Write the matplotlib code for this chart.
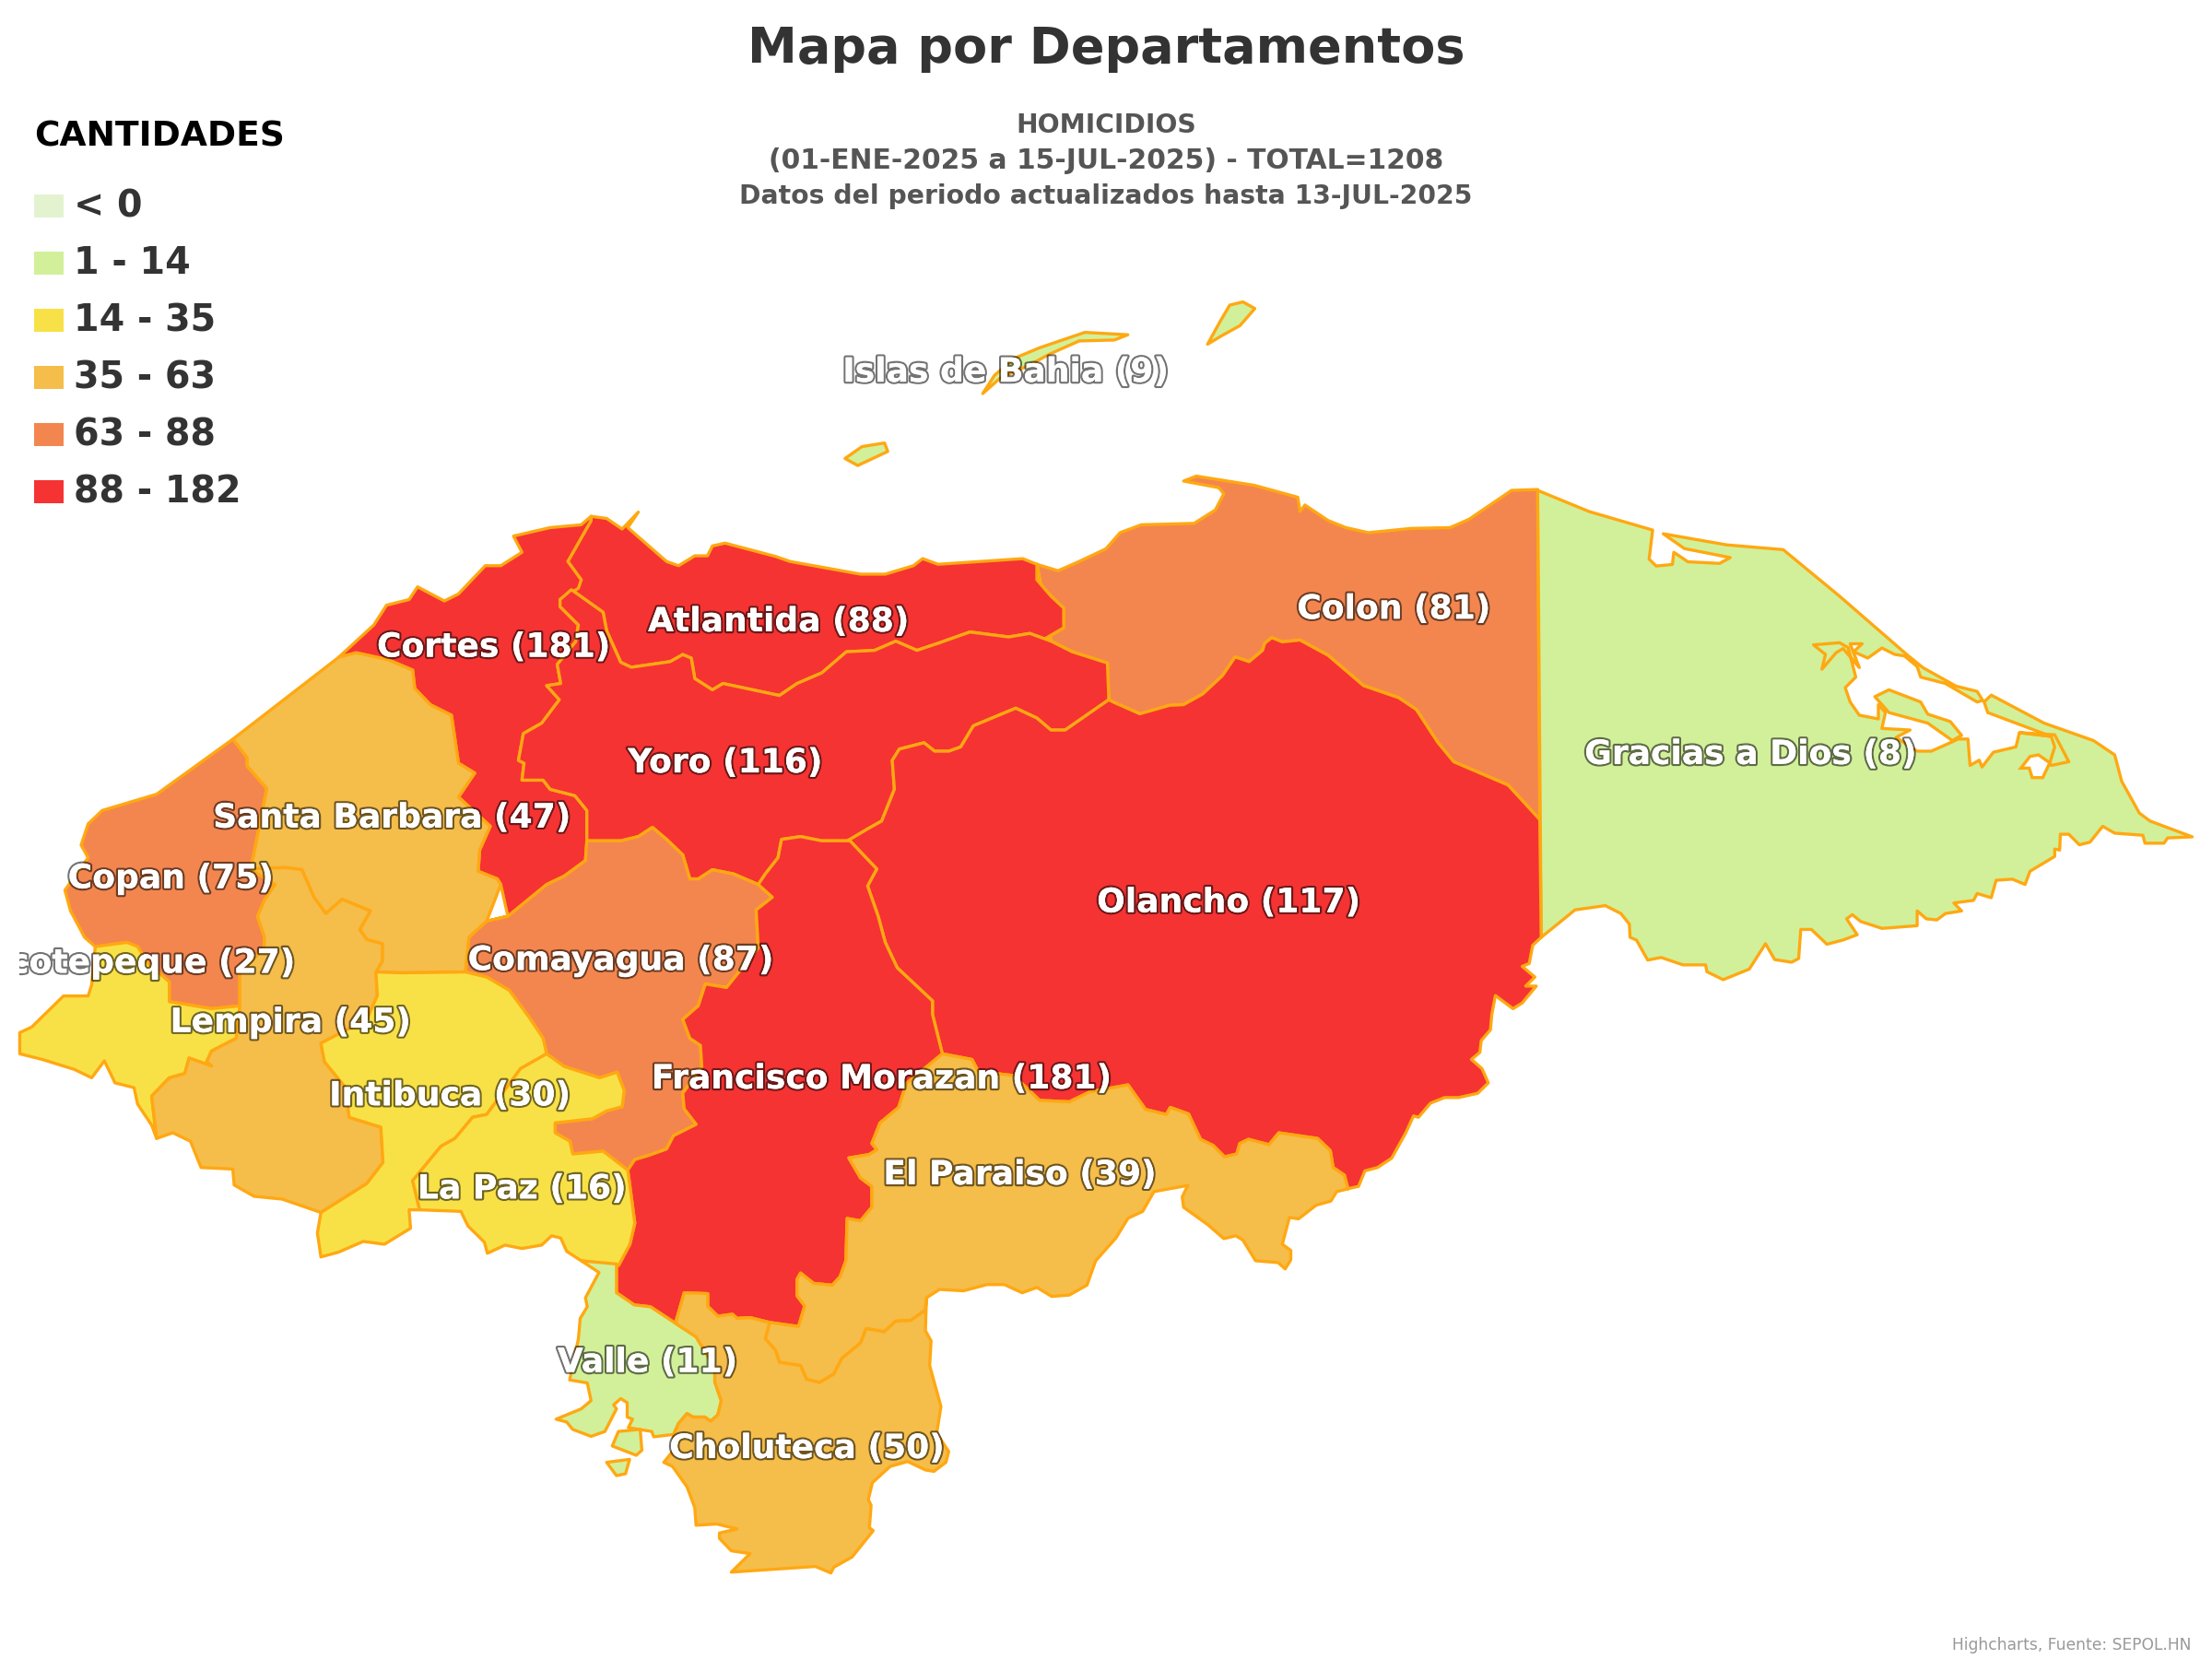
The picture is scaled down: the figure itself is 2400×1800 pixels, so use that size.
import bisect
import matplotlib
matplotlib.use("Agg")
import matplotlib.pyplot as plt
import matplotlib.patheffects as pe
from matplotlib.patches import Polygon, Rectangle

plt.rcParams['font.family'] = ['DejaVu Sans']

title = "Mapa por Departamentos"
subtitle = ["HOMICIDIOS", "(01-ENE-2025 a 15-JUL-2025) - TOTAL=1208", "Datos del periodo actualizados hasta 13-JUL-2025"]
legend_title = "CANTIDADES"
legend_labels = ["< 0", "1 - 14", "14 - 35", "35 - 63", "63 - 88", "88 - 182"]
legend_colors = ["#E4F3CF", "#D2F09A", "#F8E147", "#F5BD4A", "#F3864F", "#F53333"]
class_edges = [1, 14, 35, 63, 88, 182]
credit = "Highcharts, Fuente: SEPOL.HN"
EDGE = "#FFA812"

departments = ["Islas de Bahia", "Colon", "Atlantida", "Cortes", "Yoro", "Gracias a Dios", "Santa Barbara", "Copan",
               "Olancho", "Comayagua", "Ocotepeque", "Lempira", "Francisco Morazan", "Intibuca", "El Paraiso",
               "La Paz", "Valle", "Choluteca"]
counts = [9, 81, 88, 181, 116, 8, 47, 75, 117, 87, 27, 45, 181, 30, 39, 16, 11, 50]
label_x = [713, 988, 552, 350, 514, 1241, 278, 121, 871, 440, 98, 206, 625, 319, 723, 370, 459, 572]
label_y = [264, 432, 441, 459, 541, 535, 580, 623, 640, 681, 683, 725, 765, 777, 833, 843, 966, 1027]

# Outlines
yoro_olancho = [(786,496),(755,517.5),(745,517.5),(735,509),(720,502),(690,514.5),(681,529.5),(672.5,532.5),(662.5,532.5),
                (655,526.5),(637.5,531),(632.5,539),(634,559.5),(625,582),(615,587.6),(602.5,595)]
yoro_fm = [(600,596),(582.5,596),(567.5,593),(554,595),(551.5,608),(542.5,619.5),(537.5,627)]
yoro_comayagua = [(520,619.5),(505,616.5),(495,623),(489,623),(484,606),(472.5,595),(462.5,586.5),(452.5,593),(440,596),(416,596)]
atlantida_south = [(440,469.5),(447.5,473),(475,469),(484,464),(490,466.5),(492.5,481),(505,489),(512.5,484.5),(552.5,493),
                   (565,484.5),(582.5,477),(600,462),(620,461),(635,454.5),(650,461),(665,456),(687.5,448),(715,451.5),(730,449),(745,454.5)]
colon_olancho = [(1091.5,581),(1069,556.5),(1030.5,540),(1019,526),(1004,503),(991.5,494.6),(966.5,486),(941.5,464.6),
                 (921.5,453.7),(909,455),(901.5,452),(896.5,456),(895,461),(885.5,469),(875.5,465.7),(866.5,479),(852.5,492),
                 (839,499.5),(829,500),(808,506),(789,497.6),(786,496)]
olancho_paraiso = [(955.5,842.6),(953,833),(945,827.6),(943,815.6),(934,807),(906.5,803),(899.6,811.4),(885,807.6),(878.8,810.6),
                   (876.7,818),(868,820),(860,812),(851,807.6),(842.5,789.6),(829.6,785),(826.7,790),(812,786.4),(799.6,769),
                   (772.5,774),(758,781),(737,780),(718.4,762.4),(693.5,759.5),(689,751),(668,747)]
fm_olancho = [(602.5,596),(621.5,616),(615,628),(622.5,649.5),(627.5,668),(636,686),(661,709.5),(661,719),(668,747)]
fm_comayagua = [(537.5,627),(547.5,636),(536,645),(537.5,672),(515,700),(500,697.5),(495,713),(484,722.6),(489,736),(496.5,741),
                (497.5,756),(484,775),(485,786),(493.5,797),(477.5,805),(472.5,814.5),(460,819),(450,822),(445,829.5)]
fm_paraiso = [(566,940.3),(570.4,925.8),(565,918.5),(565,906.8),(567.5,902.4),(576.7,909.7),(590,911),(595.5,905),(599.6,893.7),
              (600.5,863.7),(610,865.4),(618,855.8),(618,841),(610,835),(601.7,820.8),(616,818.4),(621.7,815),(618,810.6),
              (623.8,796),(637,785),(642.5,768),(668,747)]
fm_choluteca = [(478.8,938),(485,916.4),(501.7,917),(501.7,926),(508.8,933),(519.2,931.6),(522.5,934.5),(531.7,934),(545.5,937.4)]
comayagua_west = [(445,829.5),(427.5,816),(406,818),(404,809),(393.5,803),(393.5,796),(420,793),(430,787.5),(441,784.5),(442.5,773),
                  (437.5,760),(425,764),(400,756),(387.5,747),(385,736),(375,721),(361,702),(345,692.6),(330,689)]
cortes_comayagua = [(330,689),(332.5,664.5),(345,653),(360,649.5),(387.5,627),(400,621),(415,610),(416,596)]
cortes_yoro = [(416,596),(416,574.5),(407.5,564),(390,559.5),(385,553),(370,553),(371.5,541),(367.5,539),(371,520),(384,512.6),
               (396.5,496),(387.5,486),(397.5,484.5),(395,471)]
cortes_barbara = [(360,649.5),(355,627),(352.5,623),(339,617.6),(340,602.6),(347.5,585.7),(325,565),(336.5,548),(325,541),(320,507),
                  (305,499.5),(294,488),(292.5,475),(275,467.6),(252.5,462.7),(240,466)]
cortes_coast = [(240,466),(265,443),(274,429),(290,425),(296,416),(315,426),(325,421),(344,401),(355,401),(370,391.5),(364,380),
                (390,374),(412,372),(419,366)]
cortes_atlantida = [(419,369),(402.5,398),(412,411),(410,417),(397,425),(397,430),(410,443),(408,455),(395,471)]
atlantida_coast = [(419,366),(430,367.5),(441,375),(452.5,363),(445,374),(472.5,398),(481,401),(492.5,394),(501.5,394),(505,387),
                   (514,385),(550,394.5),(560,398),(610,407),(627.5,407),(647.5,401),(654,396),(665,400),(725,396),(735,400)]
atlantida_colon = [(735,400),(735,411),(745,422.6),(754,431),(754,445),(741,452.6),(745,454.5)]
colon_coast = [(735,400),(750,404.6),(765,398),(784,389),(794,377.6),(809,372),(846.5,371),(861.5,361.5),(867.5,350),(864,345.7),
               (839,341),(848,337.5),(889,344),(920,352.5),(921.5,362.6),(925,358),(941.5,369),(954,374),(970,377.6),(1000,374.6),
               (1028,374),(1041.5,368),(1071.5,347.6),(1090,347)]
olancho_coast = [(1092.5,664.5),(1086.5,670),(1084,683),(1079,685),(1088,692.6),(1081.5,699),(1089,699),(1079,711),(1072.5,715),
                 (1060,705.7),(1057.5,719),(1056.5,730),(1050,737.6),(1049,746),(1043,751),(1050.5,757.5),(1055,767.6),(1047.5,775),
                 (1034,778),(1024,778),(1014,782),(1005.5,792),(1002,791),(996.5,803),(986.5,821),(976.5,827.6),(967.5,830),(963,841),(955.5,842.6)]
paraiso_coast = [(956,842.6),(947.5,844.7),(943.4,851.4),(933,854.3),(920.5,864),(914,863),(909,882),(915,886.4),(915,893),(911,899.5),
                 (906,895),(890,893.7),(881,879),(876,876),(867.5,878),(856,868),(839,855.8),(838,848.5),(842,840.3),(818,844.7),
                 (810,858.7),(799.6,863.6),(791,877.6),(776.7,893.7),(770.5,911),(758,918),(745.5,919),(735,912.6),(724.6,916.4),
                 (712,910.6),(699.6,910.6),(683,915),(666,914),(656.7,920)]
paraiso_choluteca = [(656.7,920),(656,928.7),(645.5,936),(635,936.5),(626.7,944),(614,941.8),(610,952),(596.7,963),(591,974),(581,980),
                     (571.7,977.7),(567.5,968),(552.5,965.7),(549.6,957),(542.5,949),(545.5,937.4)]
choluteca_coast = [(656.7,920),(656,943.3),(660,950.5),(659,968),(667,997),(664,1016),(672.5,1029),(670.5,1036.6),(662,1043),(656,1042),
                   (643.4,1036),(631,1039.5),(618.4,1051),(615.5,1063),(617.5,1067),(616.3,1083),(619,1085),(604,1103.7),(591,1111),
                   (589,1115),(578,1110.4),(518.4,1114.4),(531.7,1101.3),(518.4,1099.3),(510,1090.5),(510,1086.7),(522.5,1083.8),
                   (508,1080.3),(493.4,1081.2),(492.5,1068.7),(487,1054),(476.7,1039.5),(470.5,1036.6),(476.7,1029),(477.5,1016.8)]
valle_choluteca = [(477.5,1016.8),(481,1009),(487,1002),(491.3,1004.5),(499.6,1004.5),(503.8,1007.4),(508.8,1003),(511.3,993),
                   (506.7,979.7),(506.7,969.5),(493.4,947.6),(478.8,938)]
fm_valle = [(478.8,938),(461,926.3),(449.6,925),(437,916.4),(437,896)]
fm_lapaz = [(445,829.5),(450,867),(446.5,882),(438.5,897)]
valle_coast = [(437,896),(412,893.7),(424.6,902),(415,920),(416.3,926.3),(411.3,934.5),(410,949),(403.8,978.2),(416.3,980.3),(419,992.8),
               (412,998.7),(394.2,1006),(401.7,1008),(405.9,1013.2),(419,1018.2),(428.8,1014.7),(437,998.7),(435,995.8),(440,991.4),
               (444.6,994.3),(444.6,1004.5),(448.4,1006),(445.4,1012),(462,1014.7),(463.4,1018.5),(477.5,1016.8)]
valle_island_a = [(438.4,1014.7),(453.8,1013.2),(455,1028),(451,1031.6),(434,1025)]
valle_island_b = [(430,1036.6),(446.3,1034.5),(443.4,1044.7),(437,1046)]
lapaz_coast = [(438.5,897),(412,893.7),(401.7,887),(397.5,877.6),(391,876),(384,882.6),(370,885),(358,882.6),(345.5,888.4),(343.4,880.6),
               (331.7,869),(326.7,858.7),(297.5,857.6)]
lapaz_intibuca = [(297.5,857.6),(292.5,837),(312.5,812.6),(322.5,807),(335,792),(345,790),(369,757.5),(387.5,747)]
intibuca_coast = [(297.5,857.6),(290,857.6),(291,870.7),(272.5,882),(257.5,880),(240,887.6),(227.5,891),(225,874),(227.5,859.5)]
lempira_intibuca = [(227.5,859.5),(260,839),(271.5,824),(270,799),(247.5,792),(245,771),(230,752.6),(227.5,739.5),(260,722.6),(267.5,705.7),(266.5,689)]
barbara_intibuca = [(266.5,689),(285,689.6),(330,689)]
barbara_lempira = [(266.5,689),(271,681.3),(271,669),(260,666),(255,659),(262.5,645.7),(242.5,637.5),(231,647.6),(222.5,636),(214,616.5),(202.5,615),(177.5,616)]
barbara_copan = [(165,524),(175,537),(175,543),(189,559),(180,604.5),(177.5,616)]
barbara_coast = [(240,466),(165,524)]
copan_coast = [(165,524),(111,563),(72.5,574.5),(62.5,584),(57.5,599),(62.5,608),(46,631),(50,645.7),(60,664.5),(67.5,671)]
copan_ocotepeque = [(67.5,671),(90,668),(97.5,671),(105,683),(120,696),(120,710),(150,715),(170,713)]
copan_lempira = [(177.5,616),(195,627),(187.5,638),(182.5,649.5),(187.5,664.5),(187,672),(170,690),(170,713)]
ocotepeque_lempira = [(170,713),(167.5,736),(150,745),(146.5,752.6),(150,755.6),(134,750),(131,761),(120,764),(107.5,777),(111,807)]
ocotepeque_coast = [(67.5,671),(65,698),(62.5,706),(45,706),(22.5,728),(14,732),(14,747),(30,751),(52.5,758),(65,764),(74,752),(81.5,767.6),
                    (95,771),(97.5,782.6),(107.5,797.6),(111,807)]
lempira_coast = [(111,807),(122.5,803),(135,809),(142.5,827.6),(165,828.7),(166,840),(180,848),(200,850),(227.5,859.5)]
roatan = [(696.6,279),(705,266),(719,254),(737,246.5),(769,235.6),(799.5,237.3),(790,241),(765,241.7),(744,251),(730,258.6),(709,268)]
guanaja = [(856,244),(864.6,228.4),(871.7,216.3),(881,214),(889.5,218.7),(879,230.8),(866,238)]
utila = [(599,325),(611,316.6),(627,314),(629.3,320),(608,330)]

# Gracias a Dios, traced at sheet scale (x/2 + 784, y/2.667 + 327)
gracias_sheet = [(612,55),(685,95),(775,130),(770,185),(780,198),(803,195),(805,172),(825,190),(870,193),(885,182),(820,165),(790,137),
                 (880,158),(960,167),(1040,255),(1135,365),(1158,390),(1205,425),(1235,435),(1243,452),(1235,455),(1190,420),(1155,408),
                 (1150,388),(1132,368),(1118,365),(1100,353),(1080,372),(1060,360),(1072,345),(1055,345),(1068,390),(1045,354),(1035,362),
                 (1015,393),(1020,365),(1003,347),(1040,343),(1052,352),(1063,408),(1048,428),(1055,455),(1068,480),(1095,487),(1095,460),
                 (1105,475),(1100,505),(1140,508),(1120,522),(1150,548),(1170,548),(1197,532),(1208,525),(1222,525),(1225,575),(1238,565),
                 (1242,578),(1258,550),(1290,540),(1295,513),(1340,520),(1250,475),(1245,455),(1255,442),(1330,495),(1400,528),(1430,555),
                 (1440,605),(1465,665),(1480,680),(1540,710),(1505,712),(1500,722),(1473,722),(1470,707),(1430,703),(1413,690),(1395,720),
                 (1380,725),(1365,705),(1353,705),(1352,735),(1345,733),(1345,747),(1310,775),(1303,800),(1285,790),(1262,792),(1255,825),
                 (1235,817),(1230,830),(1202,835),(1213,850),(1190,855),(1178,867),(1163,865),(1150,850),(1150,878),(1100,883),(1070,870),
                 (1058,857),(1050,865),(1065,895),(1045,905),(1022,913),(1000,885),(985,885),(982,940),(972,947),(948,942),(935,912),
                 (912,960),(875,980),(852,965),(850,952),(818,952),(787,938),(768,943),(752,905),(743,900),(742,875),(730,855),(708,840),
                 (665,848),(617,900)]
gracias_island_sheet = [(1090,445),(1110,432),(1155,455),(1165,478),(1197,492),(1213,518),(1200,528),(1165,495),(1110,475)]
gracias_lake_sheet = [(1297,580),(1310,558),(1322,555),(1338,570),(1328,598),(1313,598),(1309,580)]
gracias_spit_sheet = [(1295,513),(1345,517),(1365,568),(1340,575),(1338,570),(1345,540),(1340,520)]


def sheet(points):
    return [(784 + x / 2, 327 + y / 2.667) for x, y in points]


gracias = sheet(gracias_sheet)
shapes = {
    "Islas de Bahia": [roatan, guanaja, utila],
    "Colon": [atlantida_colon[::-1] + atlantida_south[-1:] + [(760, 462), (785, 470)] + colon_olancho[::-1] + colon_coast[::-1]],
    "Atlantida": [atlantida_coast + atlantida_colon[1:] + atlantida_south[::-1] + [(430, 447), (427.5, 434), (405, 418), (412, 411), (402.5, 398), (419, 369)]],
    "Cortes": [cortes_coast + cortes_atlantida + cortes_yoro[::-1] + cortes_comayagua[2:][::-1] + cortes_barbara],
    "Yoro": [atlantida_south + [(760, 462), (785, 470)] + yoro_olancho + yoro_fm + yoro_comayagua + cortes_yoro[1:]
             + [(408, 455), (410, 443), (397, 430), (397, 425), (405, 418), (427.5, 434), (430, 447)]],
    "Gracias a Dios": [gracias, sheet(gracias_island_sheet), sheet(gracias_spit_sheet)],
    "Santa Barbara": [barbara_coast + barbara_copan + barbara_lempira[::-1] + barbara_intibuca[1:] + cortes_comayagua[:3] + cortes_barbara[1:-1] + [(240, 466)]],
    "Copan": [copan_coast + copan_ocotepeque + copan_lempira[::-1] + barbara_copan[::-1][1:]],
    "Olancho": [yoro_olancho[::-1] + colon_olancho[::-1] + olancho_coast + olancho_paraiso + fm_olancho[::-1]],
    "Comayagua": [yoro_comayagua[::-1] + [(537.5, 627)] + fm_comayagua[1:] + comayagua_west[1:] + cortes_comayagua[:]],
    "Ocotepeque": [ocotepeque_coast + ocotepeque_lempira[::-1] + copan_ocotepeque[::-1]],
    "Lempira": [barbara_lempira + copan_lempira[1:] + ocotepeque_lempira[1:] + lempira_coast[1:] + lempira_intibuca[1:]],
    "Francisco Morazan": [yoro_fm[::-1] + fm_olancho + fm_paraiso[::-1] + fm_choluteca[::-1] + fm_valle[1:] + fm_lapaz[::-1] + fm_comayagua[::-1]],
    "Intibuca": [barbara_intibuca + comayagua_west[-1:-7:-1] + lapaz_intibuca[::-1] + intibuca_coast + lempira_intibuca[1:]],
    "El Paraiso": [fm_paraiso + olancho_paraiso[::-1] + paraiso_coast + paraiso_choluteca[1:]],
    "La Paz": [comayagua_west[:-5][::-1] + fm_lapaz[1:] + lapaz_coast + lapaz_intibuca[1:]],
    "Valle": [valle_coast + valle_choluteca[1:] + fm_valle[1:], valle_island_a, valle_island_b],
    "Choluteca": [fm_choluteca + paraiso_choluteca[::-1][1:] + choluteca_coast[1:] + valle_choluteca[1:]],
}

fig = plt.figure(figsize=(24, 18), dpi=100, facecolor="white")
ax = fig.add_axes([0, 0, 1, 1])
ax.set_xlim(0, 1568)
ax.set_ylim(1176, 0)
ax.axis("off")

for name, value in zip(departments, counts):
    colour = legend_colors[bisect.bisect_right(class_edges, value)]
    for outline in shapes[name]:
        ax.add_patch(Polygon(outline, closed=True, facecolor=colour, edgecolor=EDGE, linewidth=2.4, joinstyle="round", zorder=2))
ax.add_patch(Polygon(sheet(gracias_lake_sheet), closed=True, facecolor="white", edgecolor=EDGE, linewidth=2.4, zorder=3))

clip = Rectangle((14, 0), 1568, 1176, transform=ax.transData)
for name, value, x, y in zip(departments, counts, label_x, label_y):
    halo = [pe.withStroke(linewidth=3.2, foreground="#000000", alpha=0.55), pe.Normal()]
    t = ax.text(x, y, f"{name} ({value})", ha="center", va="center", fontsize=26, fontweight="bold", color="white", zorder=5)
    t.set_path_effects(halo)
    t.set_clip_path(clip)
    t.set_clip_on(True)

ax.text(784, 34.5, title, ha="center", va="center", fontsize=39, fontweight="bold", color="#333333")
for line, y, size in zip(subtitle, [89, 114, 139], [20.3, 21.4, 20.3]):
    ax.text(784, y, line, ha="center", va="center", fontsize=size, fontweight="bold", color="#555555")

ax.text(24, 97, legend_title, ha="left", va="center", fontsize=27, fontweight="bold", color="#000000")
for i, (label, colour) in enumerate(zip(legend_labels, legend_colors)):
    y = 147 + i * 40.5
    ax.add_patch(Rectangle((24, y - 9), 21, 16, facecolor=colour, edgecolor="none"))
    ax.text(52, y - 0.5, label, ha="left", va="center", fontsize=28.5, fontweight="bold", color="#333333")

ax.text(1553, 1166, credit, ha="right", va="center", fontsize=12.3, color="#999999")

fig.savefig("out.png", dpi=100)
